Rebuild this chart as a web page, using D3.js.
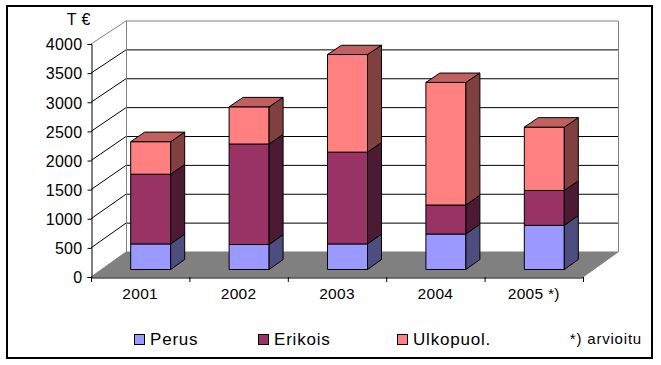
<!DOCTYPE html>
<html><head><meta charset="utf-8">
<script src="https://cdn.jsdelivr.net/npm/d3@7"></script>
<style>body{margin:0;background:#fff}svg{display:block}text{font-family:"Liberation Sans",Arial,sans-serif}</style>
</head><body><svg id="c" width="661" height="365"></svg>
<script>
const years = ["2001","2002","2003","2004","2005 *)"];
const perus = [440,430,440,610,760];
const erikois = [1200,1730,1580,500,600];
const ulkopuol = [560,640,1680,2110,1090];
const seriesNames = ["Perus","Erikois","Ulkopuol."];
const yTicks = [0,500,1000,1500,2000,2500,3000,3500,4000];
const unitLabel = "T €";
const noteLabel = "*) arvioitu";
const fronts = ["#9999FF","#993366","#FF8080"];
const sides  = ["#4D4D80","#4D1A33","#804040"];
const tops   = ["#7373BF","#73264D","#C06060"];

const svg = d3.select("#c");
const DX = 35;
const yF = d3.scaleLinear().domain([0,4000]).range([277,44]);
const yB = d3.scaleLinear().domain([0,4000]).range([252,21]);
const x = d3.scaleBand().domain(years).range([91,583]).paddingInner(0).paddingOuter(0);
const P = (xf, v, t) => [xf + t*DX, yF(v)*(1-t) + yB(v)*t];
const poly = pts => pts.map(p=>p.join(",")).join(" ");

svg.append("rect").attr("x",7).attr("y",6).attr("width",645).attr("height",352)
  .attr("fill","none").attr("stroke","#000").attr("stroke-width",2);

const x0 = x.range()[0], x1 = x.range()[1];
svg.append("polygon").attr("points",poly([P(x0,0,0),P(x1,0,0),P(x1,0,1),P(x0,0,1)]))
  .attr("fill","#808080").attr("stroke","#808080");
yTicks.forEach(v=>{
  if(v===0) return;
  const c = v===4000 ? "#808080" : "#000";
  svg.append("polyline").attr("points",poly([P(x0,v,0),P(x0,v,1),P(x1,v,1)]))
    .attr("fill","none").attr("stroke",c).attr("stroke-width",1);
});
svg.append("line").attr("x1",P(x0,0,1)[0]+0.5).attr("x2",P(x0,0,1)[0]+0.5)
  .attr("y1",P(x0,0,1)[1]).attr("y2",P(x0,4000,1)[1]).attr("stroke","#808080");
svg.append("line").attr("x1",P(x1,0,1)[0]+0.5).attr("x2",P(x1,0,1)[0]+0.5)
  .attr("y1",P(x1,0,1)[1]).attr("y2",P(x1,4000,1)[1]).attr("stroke","#808080");

svg.append("g").attr("transform","translate(91.5,0)")
  .call(d3.axisLeft(yF).tickValues(yTicks).tickSize(4).tickFormat(d3.format("d")))
  .call(g=>{g.select(".domain").attr("stroke","#000");
    g.selectAll("text").attr("font-size",16).attr("fill","#000").attr("x",-9).attr("letter-spacing",0.3).attr("dy","0.36em");});
svg.append("g").attr("transform","translate(0,277.5)")
  .call(d3.axisBottom(x).tickSize(0).tickFormat(""))
  .call(g=>g.select(".domain").attr("stroke","#000"));
[...years.map(d=>x(d)), x1].forEach(px=>{
  svg.append("line").attr("x1",px+0.5).attr("x2",px+0.5).attr("y1",277).attr("y2",282).attr("stroke","#000");
});
years.forEach(d=>{
  svg.append("text").attr("x",x(d)+x.bandwidth()/2).attr("y",299).attr("text-anchor","middle")
    .attr("font-size",15.5).attr("letter-spacing",0.3).text(d);
});
svg.append("text").attr("x",91).attr("y",25).attr("text-anchor","end").attr("font-size",16).attr("letter-spacing",0.5).text(unitLabel);

const table = years.map((y,i)=>({year:y, Perus:perus[i], Erikois:erikois[i], "Ulkopuol.":ulkopuol[i]}));
const stacked = d3.stack().keys(seriesNames)(table);
const bw = 40, t0 = 0.3, t1 = 0.7;
years.forEach((yr,i)=>{
  const xl = x(yr) + x.bandwidth()/2 - bw/2, xr = xl + bw;
  const g = svg.append("g");
  stacked.forEach((s,k)=>{
    const [a,b] = s[i];
    g.append("polygon").attr("points",poly([P(xl,a,t0),P(xr,a,t0),P(xr,b,t0),P(xl,b,t0)]))
      .attr("fill",fronts[k]).attr("stroke","#000").attr("stroke-width",1).attr("stroke-linejoin","round");
    g.append("polygon").attr("points",poly([P(xr,a,t0),P(xr,a,t1),P(xr,b,t1),P(xr,b,t0)]))
      .attr("fill",sides[k]).attr("stroke","#000").attr("stroke-width",1).attr("stroke-linejoin","round");
    if(k===stacked.length-1){
      g.append("polygon").attr("points",poly([P(xl,b,t0),P(xr,b,t0),P(xr,b,t1),P(xl,b,t1)]))
        .attr("fill",tops[k]).attr("stroke","#000").attr("stroke-width",1).attr("stroke-linejoin","round");
    }
  });
});

const legX = [134, 258, 397];
seriesNames.forEach((n,k)=>{
  svg.append("rect").attr("x",legX[k]+0.5).attr("y",334.5).attr("width",10).attr("height",10)
    .attr("fill",fronts[k]).attr("stroke","#000");
  svg.append("text").attr("x",legX[k]+16).attr("y",345).attr("font-size",17).attr("letter-spacing",0.8).text(n);
});
svg.append("text").attr("x",642).attr("y",344).attr("text-anchor","end").attr("font-size",15).attr("letter-spacing",0.8).text(noteLabel);
</script></body></html>
